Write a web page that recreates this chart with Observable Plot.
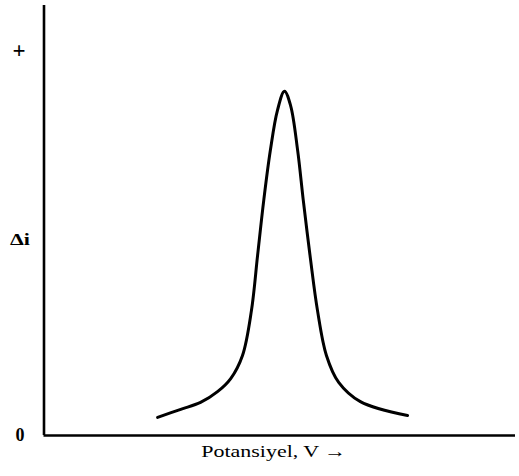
<!DOCTYPE html>
<html>
<head>
<meta charset="utf-8">
<script src="https://cdn.jsdelivr.net/npm/d3@7"></script>
<script src="https://cdn.jsdelivr.net/npm/@observablehq/plot@0.6"></script>
<style>
  html, body { margin: 0; padding: 0; background: #fff; }
  svg { display: block; }
</style>
</head>
<body>
<div id="chart"></div>
<script>
// Differential pulse polarogram: current difference Δi against applied potential
const potential = [24.1, 29.0, 33.2, 36.8, 39.6, 42.1, 44.0, 45.3, 46.6, 48.0, 49.5, 51.0,
                   52.3, 53.8, 55.0, 56.5, 58.0, 59.9, 62.5, 67.1, 77.1];
const deltaI    = [4.7, 6.8, 8.6, 11.4, 14.8, 20.8, 32.5, 46.8, 61.0, 74.0, 84.4, 89.4,
                   85.7, 74.0, 61.0, 46.0, 32.5, 20.8, 13.8, 8.8, 5.2];
const yTicks = [0, 100];
const yTickLabels = ["0", "+"];
const yLabel = "Δi";
const xLabel = "Potansiyel, V →";

const points = potential.map((v, i) => ({potential: v, deltaI: deltaI[i]}));

const font = "'Liberation Serif', 'Times New Roman', serif";

const chart = Plot.plot({
  width: 519,
  height: 476,
  marginLeft: 43.5,
  marginRight: 4,
  marginTop: 5,
  marginBottom: 41,
  style: {fontFamily: font, fontSize: "17px", color: "#000", background: "#fff"},
  x: {domain: [0, 100], axis: null},
  y: {domain: [0, 430 / 3.85], axis: null},
  marks: [
    Plot.ruleX([0], {stroke: "#000", strokeWidth: 2.6}),
    Plot.ruleY([0], {stroke: "#000", strokeWidth: 2.6}),
    // "0" at the origin
    Plot.text([yTicks[0]], {
      y: d => d, text: () => yTickLabels[0], frameAnchor: "left", dx: -24,
      textAnchor: "middle", fontWeight: 600, fontSize: 18, fill: "#000"
    }),
    // "+" for positive current
    Plot.text([yTicks[1]], {
      y: d => d, text: () => yTickLabels[1], frameAnchor: "left", dx: -25,
      textAnchor: "middle", fontWeight: "bold", fontSize: 23, fill: "#000"
    }),
    Plot.text([yLabel], {
      y: 51, text: d => d, frameAnchor: "left", dx: -24,
      textAnchor: "middle", fontWeight: "bold", fontSize: 17, fill: "#000"
    }),
    Plot.text([xLabel], {
      text: d => d, frameAnchor: "bottom", dx: -6, dy: 21,
      textAnchor: "middle", fontSize: 17, fill: "#000"
    }),
    Plot.line(points, {
      x: "potential", y: "deltaI", curve: "catmull-rom",
      stroke: "#000", strokeWidth: 3, strokeLinejoin: "round", strokeLinecap: "round"
    })
  ]
});

document.getElementById("chart").append(chart);

// The typeset labels are set slightly wide; stretch them to their set widths
const widths = {[xLabel]: 145, [yLabel]: 20};
d3.select(chart).selectAll("text").each(function () {
  const w = widths[this.textContent];
  if (w) {
    this.setAttribute("textLength", w);
    this.setAttribute("lengthAdjust", "spacingAndGlyphs");
  }
});
</script>
</body>
</html>
